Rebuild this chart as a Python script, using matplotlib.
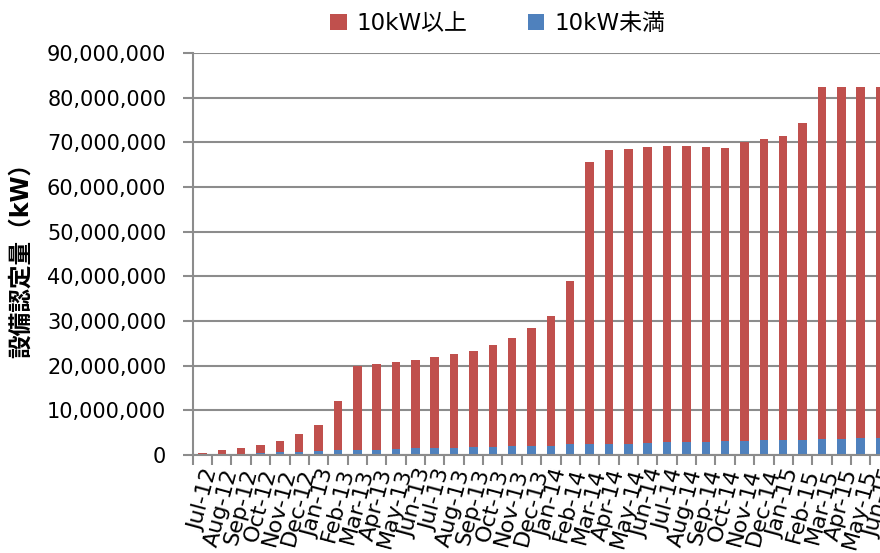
import numpy as np
import matplotlib.pyplot as plt
from matplotlib.ticker import FuncFormatter, FixedLocator

plt.rcParams['font.family'] = ['DejaVu Sans', 'Noto Sans CJK JP']

months = ["Jul-12", "Aug-12", "Sep-12", "Oct-12", "Nov-12", "Dec-12",
          "Jan-13", "Feb-13", "Mar-13", "Apr-13", "May-13", "Jun-13",
          "Jul-13", "Aug-13", "Sep-13", "Oct-13", "Nov-13", "Dec-13",
          "Jan-14", "Feb-14", "Mar-14", "Apr-14", "May-14", "Jun-14",
          "Jul-14", "Aug-14", "Sep-14", "Oct-14", "Nov-14", "Dec-14",
          "Jan-15", "Feb-15", "Mar-15", "Apr-15", "May-15", "Jun-15"]

total = [0.5, 1.1, 1.6, 2.2, 3.2, 4.7,
         6.7, 12.2, 20.0, 20.4, 20.9, 21.4,
         22.0, 22.7, 23.3, 24.6, 26.3, 28.4,
         31.2, 39.0, 65.6, 68.3, 68.6, 68.9,
         69.3, 69.3, 69.0, 68.8, 70.2, 70.8,
         71.5, 74.4, 82.5, 82.4, 82.4, 82.3]
# under 10kW (million kW)
small = [0.2, 0.3, 0.35, 0.5, 0.65, 0.7,
         0.85, 1.05, 1.1, 1.25, 1.35, 1.5,
         1.6, 1.65, 1.75, 1.9, 1.95, 2.0,
         2.1, 2.4, 2.5, 2.6, 2.6, 2.8,
         2.85, 2.85, 2.9, 3.1, 3.15, 3.3,
         3.3, 3.4, 3.5, 3.7, 3.75, 3.8]

small = np.array(small) * 1e6
large = np.array(total) * 1e6 - small
x = np.arange(len(months))

fig = plt.figure(figsize=(8.8, 5.53), dpi=100)
ax = fig.add_axes([0.219, 0.177, 0.781, 0.727])

grid_c = "#8c8c8c"
ax.set_axisbelow(True)
ax.grid(axis="y", color=grid_c, linewidth=1.5)

b1 = ax.bar(x, small, width=0.44, color="#4f81bd", label="10kW未満")
b2 = ax.bar(x, large, width=0.44, bottom=small, color="#c0504d", label="10kW以上")

ax.set_xlim(-0.5, 35.0)
ax.set_ylim(0, 90e6)
ax.set_yticks(np.arange(0, 90e6 + 1, 10e6))
ax.yaxis.set_major_formatter(FuncFormatter(lambda v, p: f"{int(v):,}"))

ax.set_xticks(x)
ax.set_xticklabels(months, rotation=75, ha="right", rotation_mode="anchor",
                   fontsize=16)
ax.tick_params(axis="x", length=0, pad=8)
ax.xaxis.set_minor_locator(FixedLocator(np.arange(-0.5, 36, 1)))
ax.tick_params(axis="x", which="minor", length=7, width=1.5, color=grid_c)
ax.tick_params(axis="y", length=7, width=1.5, color=grid_c, labelsize=15, pad=12)

for s in ["top", "right"]:
    ax.spines[s].set_visible(False)
ax.spines["left"].set_color(grid_c)
ax.spines["left"].set_linewidth(1.5)
ax.spines["bottom"].set_color(grid_c)
ax.spines["bottom"].set_linewidth(1.5)

ax.set_ylabel("設備認定量（kW）", fontsize=17, fontweight="bold")
ax.yaxis.set_label_coords(-0.232, 0.5)

fig.legend([b2, b1], ["10kW以上", "10kW未満"], loc="center",
           bbox_to_anchor=(0.566, 0.958), ncol=2, frameon=False, fontsize=16.5,
           handlelength=0.7, handleheight=0.7, columnspacing=2.65, handletextpad=0.45)

fig.savefig("out.png", dpi=100)
